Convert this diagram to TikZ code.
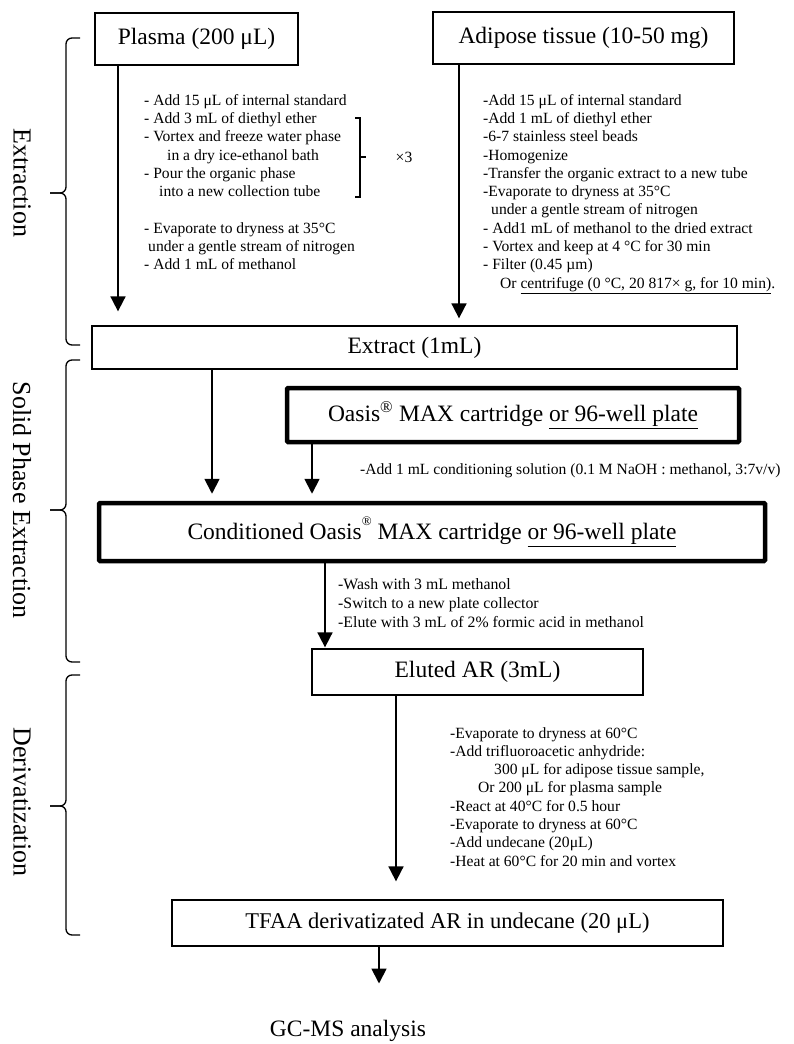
\documentclass[tikz,border=0pt]{standalone}
\usepackage{fontspec}
\setmainfont{Liberation Serif}
\usetikzlibrary{arrows.meta,positioning}
\newcommand{\notesize}{\fontsize{15.6}{18.3}\selectfont}
\newcommand{\washsize}{\fontsize{15.8}{19}\selectfont}
\newcommand{\boxsize}{\fontsize{23.5}{28}\selectfont}
\newcommand{\lblsize}{\fontsize{26}{30}\selectfont}
\tikzset{
  box/.style={draw=black,line width=1.3pt,inner sep=0pt,align=center,font=\boxsize},
  boxk/.style={box,line width=4.5pt,rounded corners=1pt},
  note/.style={align=left,anchor=north west,inner sep=0pt,font=\notesize},
  ar/.style={-{Triangle[width=15pt,length=15pt]},line width=1.8pt},
  brc/.style={line width=1.3pt,rounded corners=6pt},
  lbl/.style={rotate=-90,inner sep=0pt,font=\lblsize},
}
\begin{document}
\begin{tikzpicture}[x=1pt,y=-1pt]
\useasboundingbox (0,0) rectangle (793,1044);
% samples
\node[box,minimum width=203pt,minimum height=52pt] (plasma) at (196.5,39) {Plasma (200 μL)};
\node[box,minimum width=301pt,minimum height=52pt] (adipose) at (583.5,38) {Adipose tissue (10-50 mg)};
% extraction steps
\node[note] (plnote) at (144,94) {- Add 15 μL of internal standard\\
- Add 3 mL of diethyl ether\\
- Vortex and freeze water phase\\
\hspace*{23pt}in a dry ice-ethanol bath\\
- Pour the organic phase\\
\hspace*{15pt}into a new collection tube\\[18.3pt]
- Evaporate to dryness at 35°C\\
\hspace*{4pt}under a gentle stream of nitrogen\\
- Add 1 mL of methanol};
\draw[line width=1.3pt] (355,118) -- (360,118) -- (360,197) -- (355,197);
\draw[line width=1.3pt] (360,157) -- (366,157);
\node[font=\notesize,inner sep=0pt] (rep) at (404,157) {×3};
\node[note] (adnote) at (483,94) {-Add 15 μL of internal standard\\
-Add 1 mL of diethyl ether\\
-6-7 stainless steel beads\\
-Homogenize\\
-Transfer the organic extract to a new tube\\
-Evaporate to dryness at 35°C\\
\hspace*{8pt}under a gentle stream of nitrogen\\
- Add1 mL of methanol to the dried extract\\
- Vortex and keep at 4 °C for 30 min\\
- Filter (0.45 µm)\\
\hspace*{17pt}Or \underline{centrifuge (0 °C, 20 817× g, for 10 min)}.};
% extract and SPE
\node[box,minimum width=645pt,minimum height=43pt] (extract) at (414.5,347.5) {Extract (1mL)};
\node[boxk,minimum width=452pt,minimum height=54pt] (oasis) at (513,415) {Oasis\textsuperscript{®} MAX cartridge \underline{or 96-well plate}};
\node[note,anchor=base west] (cndnote) at (360,474) {-Add 1 mL conditioning solution (0.1 M NaOH : methanol, 3:7v/v)};
\node[boxk,minimum width=666pt,minimum height=58pt] (cond) at (432,532) {Conditioned Oasis\raisebox{14pt}{\fontsize{13}{13}\selectfont ®}\ MAX cartridge \underline{or 96-well plate}};
\node[note,font=\washsize] (wash) at (338,578) {-Wash with 3 mL methanol\\
-Switch to a new plate collector\\
-Elute with 3 mL of 2\% formic acid in methanol};
\node[box,minimum width=331pt,minimum height=46pt] (eluted) at (477.5,672) {Eluted AR (3mL)};
% derivatization
\node[note] (drnote) at (450,727) {-Evaporate to dryness at 60°C\\
-Add trifluoroacetic anhydride:\\
\hspace*{44pt}300 μL for adipose tissue sample,\\
\hspace*{28pt}Or 200 μL for plasma sample\\
-React at 40°C for 0.5 hour\\
-Evaporate to dryness at 60°C\\
-Add undecane (20μL)\\
-Heat at 60°C for 20 min and vortex};
\node[box,minimum width=551pt,minimum height=46pt,font=\fontsize{22.5}{27}\selectfont] (tfaa) at (447.5,923) {TFAA derivatizated AR in undecane (20 μL)};
\node[font=\boxsize,inner sep=0pt,anchor=base] (gcms) at (348,1036) {GC-MS analysis};
% arrows
\coordinate (xa) at (118,0);
\coordinate (xb) at (459,0);
\coordinate (xc) at (212,0);
\coordinate (xd) at (312,0);
\coordinate (xe) at (325,0);
\coordinate (xf) at (396,0);
\coordinate (xg) at (379,0);
\draw[ar,shorten >=14pt] (plasma.south -| xa) -- (extract.north -| xa);
\draw[ar,shorten >=7pt] (adipose.south -| xb) -- (extract.north -| xb);
\draw[ar,shorten >=7pt] (extract.south -| xc) -- (cond.north -| xc);
\draw[ar,shorten >=7pt] (oasis.south -| xd) -- (cond.north -| xd);
\draw[ar,shorten >=1pt] (cond.south -| xe) -- (eluted.north -| xe);
\draw[ar,shorten >=18pt] (eluted.south -| xf) -- (tfaa.north -| xf);
\draw[ar,shorten >=36pt] (tfaa.south -| xg) -- (gcms.north -| xg);
% stage braces
\draw[brc] (80,38) -- (66,38) -- (66,193) -- (50,193);
\draw[brc] (50,193) -- (66,193) -- (66,345) -- (80,345);
\node[lbl] (lext) at (22,183) {Extraction};
\draw[brc] (80,360) -- (66,360) -- (66,510) -- (50,510);
\draw[brc] (50,510) -- (66,510) -- (66,662) -- (80,662);
\node[lbl] (lspe) at (22,500) {Solid Phase Extraction};
\draw[brc] (80,675) -- (66,675) -- (66,806) -- (50,806);
\draw[brc] (50,806) -- (66,806) -- (66,935) -- (80,935);
\node[lbl] (lder) at (22,802) {Derivatization};
\end{tikzpicture}
\end{document}
